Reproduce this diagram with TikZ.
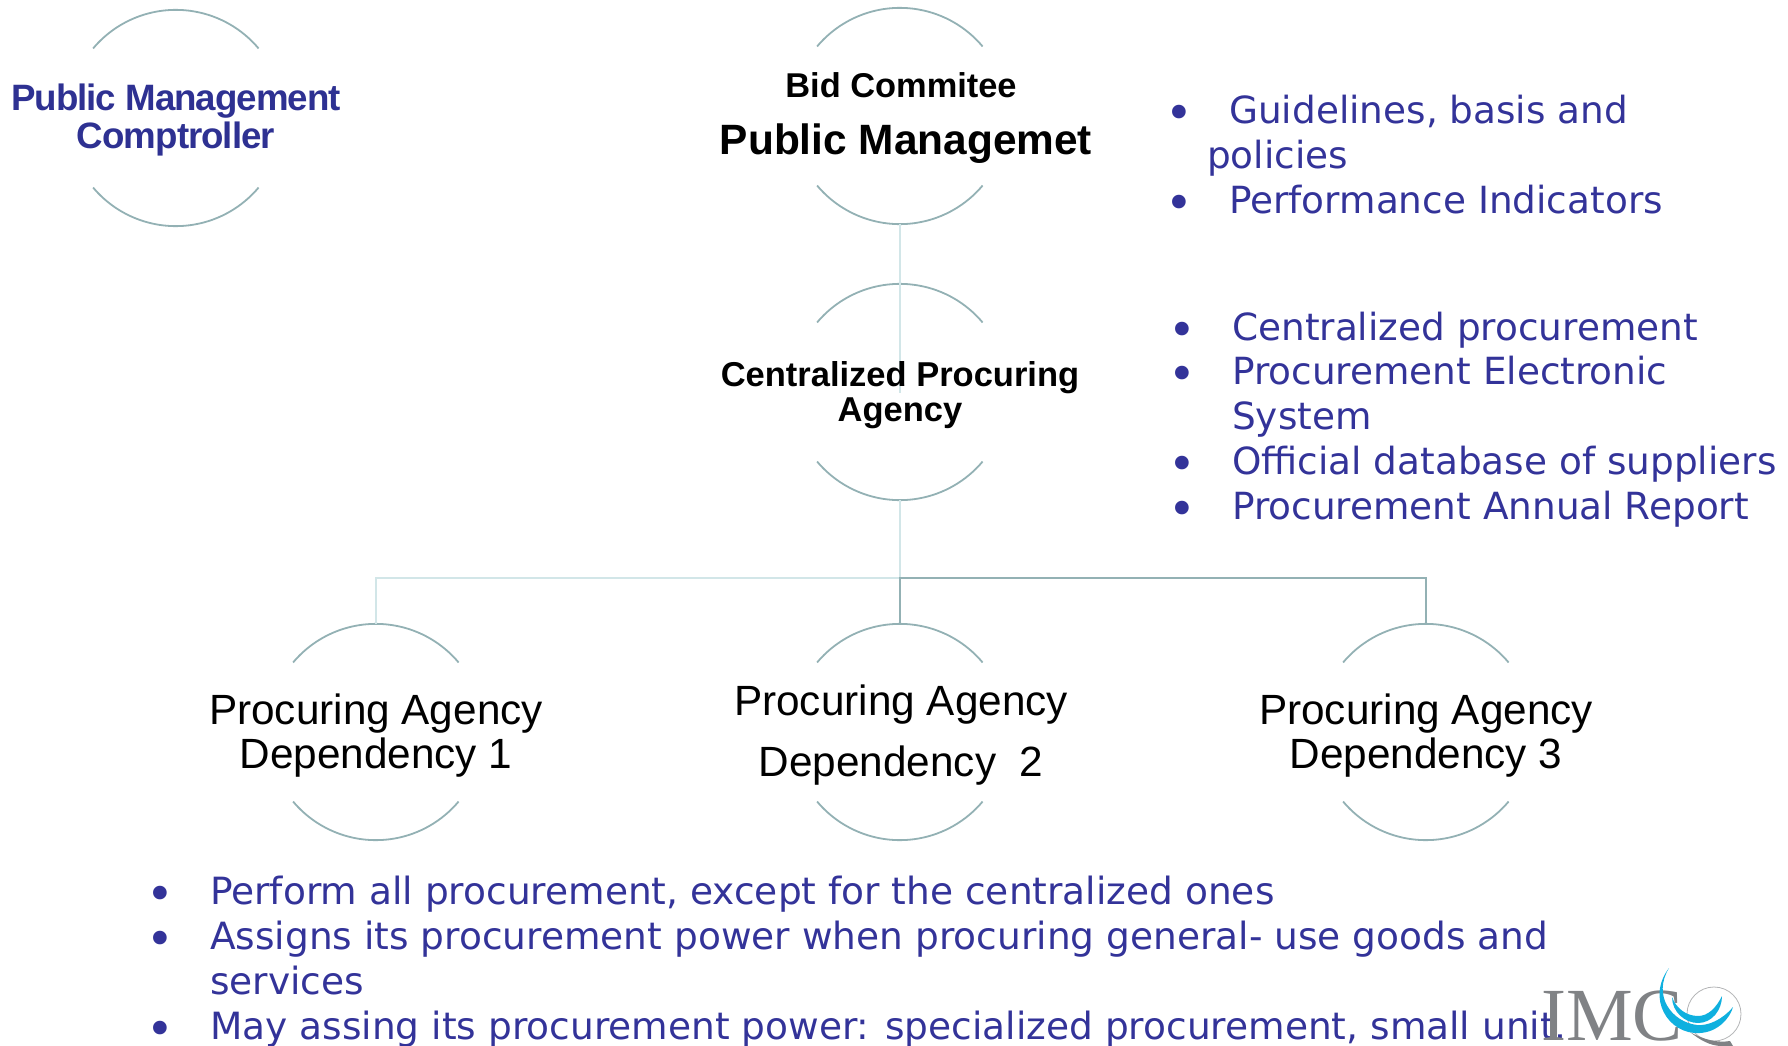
\documentclass[tikz,border=0pt]{standalone}
\usepackage{fontspec}
\setmainfont{Liberation Sans}
\newfontfamily\bulletfont{DejaVu Sans}
\newfontfamily\logofont{Liberation Serif}
\newfontfamily\tightfont[LetterSpace=-2.7]{Liberation Sans}
\usepackage{tikz}
\definecolor{arcgreen}{HTML}{93B1B4}
\definecolor{palegreen}{HTML}{D2E6E8}
\definecolor{textblue}{HTML}{2E3192}
\definecolor{listblue}{HTML}{333399}
\definecolor{logoblue}{HTML}{0FB0DF}
\definecolor{logogray}{HTML}{808285}
\newcommand{\pxfont}[1]{\fontsize{#1}{#1}\selectfont}

\begin{document}
\begin{tikzpicture}[x=1pt, y=-1pt,
  arcline/.style={draw=arcgreen, line width=1.8pt},
  paleline/.style={draw=palegreen, line width=1.8pt},
  darkline/.style={draw=arcgreen, line width=1.8pt},
  blob/.style={circle, inner sep=0pt, minimum size=216pt},
  label/.style={align=center, inner sep=0pt, text=black},
  item/.style={anchor=base west, inner sep=0pt, text=listblue, font=\bulletfont\pxfont{37.4}},
  lowitem/.style={item, font=\bulletfont\pxfont{37.5}},
  dot/.style={anchor=base, inner sep=0pt, yshift=-6pt, text=listblue, font=\bulletfont\pxfont{47}}]

 \useasboundingbox (0,0) rectangle (1788,1046);

 \node[blob] (comptroller) at (176,118) {};
 \node[blob] (bid) at (900,116) {};
 \node[blob] (central) at (900,392) {};
 \node[blob] (depa) at (376,732) {};
 \node[blob] (depb) at (900,732) {};
 \node[blob] (depc) at (1426,732) {};

 \foreach \n in {comptroller,bid,central,depa,depb,depc}
 {
   \draw[arcline] (\n.140) arc (-140:-40:108);
   \draw[arcline] (\n.220) arc (140:40:108);
 }

 % connectors
 \coordinate (busm) at (900,578);
 \coordinate (busl) at (376,578);
 \coordinate (busr) at (1426,578);
 \coordinate (inner) at (900,393);
 \draw[paleline] (bid.south) -- (inner);
 \draw[paleline] (central.south) -- (busm);
 \draw[paleline] (depa.north) -- (busl) -- (busm);
 \draw[darkline] (depb.north) -- (busm) -- (busr) -- (depc.north);

 % labels
 \node[label, font=\bfseries\tightfont\pxfont{36.7}, text=textblue, anchor=base] (compa) at (176,111) {Public Management};
 \node[label, font=\bfseries\tightfont\pxfont{36.7}, text=textblue, anchor=base] (compb) at (176,149) {Comptroller};
 \node[label, font=\bfseries\pxfont{34.4}, anchor=base] (bidlabel) at (901,98) {Bid Commitee};
 \node[label, font=\bfseries\pxfont{42.4}, anchor=base] (publabel) at (906,154) {Public Managemet};
 \node[label, font=\bfseries\pxfont{34.5}, anchor=base] (cena) at (900,386) {Centralized Procuring};
 \node[label, font=\bfseries\pxfont{34.5}, anchor=base] (cenb) at (900,421) {Agency};
 \foreach \n/\x/\ya/\yb/\t in {a/376/724/768/1, b/901/715/776/{\ 2}, c/1426/724/768/3}
 {
   \node[label, font=\pxfont{42.3}, anchor=base] (dep\n top) at (\x,\ya) {Procuring Agency};
   \node[label, font=\pxfont{42.3}, anchor=base] (dep\n low) at (\x,\yb) {Dependency \t};
 }

 % right list
 \foreach \n/\xd/\xt/\y/\t in {
   a/1179/1229/124/{Guidelines, basis and},
   b/1179/1229/213/{Performance Indicators},
   c/1182/1232/340/{Centralized procurement},
   d/1182/1232/384/{Procurement Electronic},
   e/1182/1232/474/{Official database of suppliers},
   f/1182/1232/519/{Procurement Annual Report}}
 {
   \node[dot] (dot\n) at (\xd,\y) {•};
   \node[item] (item\n) at (\xt,\y) {\t};
 }
 \node[item] (itemj) at (1207,168) {policies};
 \node[item] (itemk) at (1232,429) {System};

 % bottom list
 \foreach \n/\y/\t in {
   g/904/{Perform all procurement, except for the centralized ones},
   h/949/{Assigns its procurement power when procuring general- use goods and},
   i/1039/{May assing its procurement power: specialized procurement, small unit.}}
 {
   \node[dot] (dot\n) at (160,\y) {•};
   \node[lowitem] (item\n) at (210,\y) {\t};
 }
 \node[lowitem] (iteml) at (210,994) {services};

 % logo
 \node[anchor=base west, inner sep=0pt, text=logogray, font=\logofont\pxfont{75}] (logotext) at (1541,1040) {IMC};
 \node[circle, draw=logogray!60, line width=.8pt, minimum size=54pt, inner sep=0pt] (logoring) at (1714,1014) {};
 \fill[logogray] (1690,1032) .. controls (1700,1040) and (1710,1046) .. (1722,1046) -- (1733,1046)
   .. controls (1732,1044) and (1731,1043) .. (1730,1041)
   .. controls (1718,1043) and (1704,1040) .. (1690,1032) -- cycle;
 \fill[logoblue] (1669,968) .. controls (1646,998) and (1668,1035) .. (1700,1033)
   .. controls (1718,1032) and (1730,1018) .. (1733,1007)
   .. controls (1722,1020) and (1708,1026) .. (1697,1025)
   .. controls (1672,1022) and (1652,996) .. (1669,968) -- cycle;
 \fill[logoblue] (1672,997) .. controls (1672,1012) and (1685,1023) .. (1698,1023)
   .. controls (1712,1023) and (1722,1010) .. (1722,996)
   .. controls (1716,1008) and (1708,1016) .. (1698,1016)
   .. controls (1686,1016) and (1676,1008) .. (1672,997) -- cycle;
\end{tikzpicture}
\end{document}
